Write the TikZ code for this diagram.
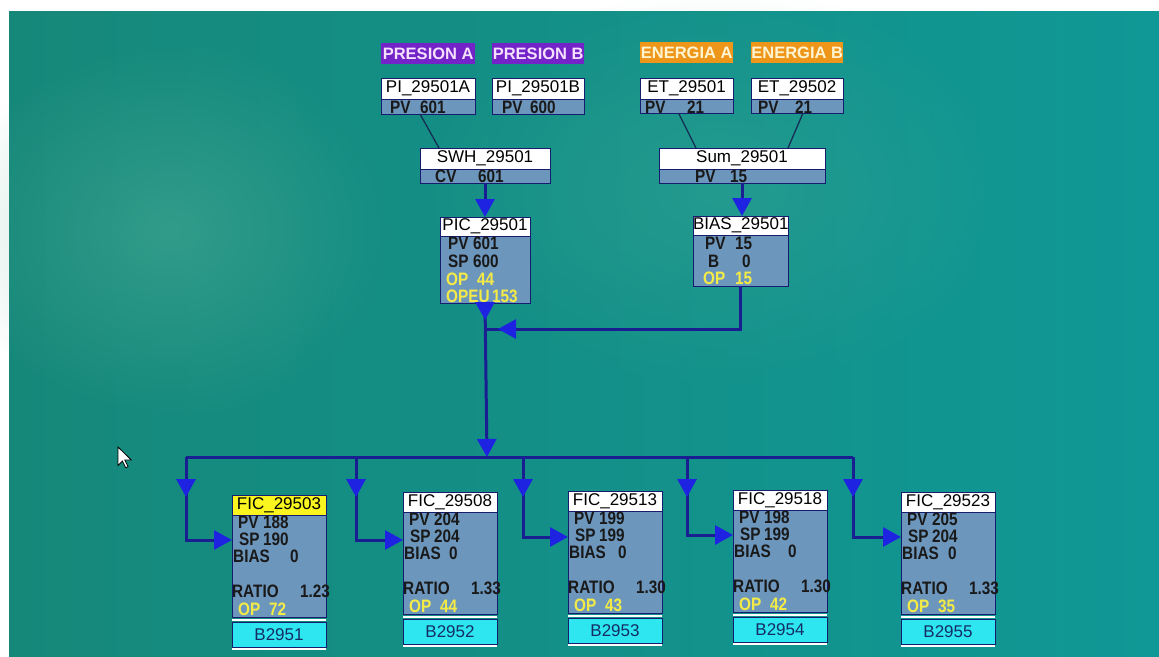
\documentclass[tikz,border=0pt]{standalone}
\usepackage{fontspec}
\setmainfont{Liberation Sans}
\newfontfamily\bodyf[FakeStretch=0.85]{Liberation Sans}
\usetikzlibrary{arrows.meta,decorations.markings,fadings}
\definecolor{tealL}{RGB}{22,136,122}
\definecolor{tealR}{RGB}{16,152,150}
\definecolor{spot}{RGB}{85,178,152}
\definecolor{bodycol}{RGB}{108,150,188}
\definecolor{navy}{RGB}{22,28,110}
\definecolor{linecol}{RGB}{25,30,145}
\definecolor{arrcol}{RGB}{30,35,225}
\definecolor{thincol}{RGB}{20,45,85}
\definecolor{yel}{RGB}{245,235,70}
\definecolor{purp}{RGB}{115,35,200}
\definecolor{purptxt}{RGB}{245,225,255}
\definecolor{orng}{RGB}{238,150,25}
\definecolor{orngtxt}{RGB}{255,245,210}
\definecolor{cyanb}{RGB}{45,230,240}
\definecolor{cytxt}{RGB}{20,45,100}
\definecolor{hdryel}{RGB}{250,245,30}
\tikzfading[name=softspot, inner color=transparent!55, outer color=transparent!100]
\newcommand\lv[3]{\makebox[#1][l]{#2}#3}
\tikzset{
  hdr/.style={draw=navy, line width=1pt, fill=white, inner sep=0pt, outer sep=0pt, anchor=north west, font=\fontsize{17}{17}\selectfont, text=black},
  bod/.style={draw=navy, line width=1pt, fill=bodycol, inner sep=0pt, outer sep=0pt, anchor=north west},
  rowt/.style={anchor=west, inner sep=0pt, font=\bodyf\bfseries\fontsize{18}{18}\selectfont, text=black!90},
  rowy/.style={rowt, text=yel},
  lab/.style={inner sep=0pt, anchor=north west, font=\bfseries\fontsize{16.5}{16.5}\selectfont},
  conn/.style={draw=linecol, line width=3pt},
  thinc/.style={draw=thincol, line width=1.3pt},
  cyb/.style={fill=cyanb, draw=navy, line width=1pt, inner sep=0pt, outer sep=0pt, anchor=north west, font=\fontsize{17}{17}\selectfont, text=cytxt},
}
\newcommand\mkbox[7]{%
  \node[hdr, minimum width=#4pt, minimum height=#5pt] (#1) at (#2,#3) {#7};
  \node[bod, minimum width=#4pt, minimum height=#6pt] (#1b) at (#1.south west) {};
}
\newcommand\ficbox[6]{%
  \node[hdr, fill=#4, minimum width=94pt, minimum height=20pt] (#1) at (#2,#3) {#5};
  \node[bod, minimum width=94pt, minimum height=102pt] (#1b) at (#1.south west) {};
  \draw[white, line width=2pt] (#2,#3+124.5) -- (#2+94,#3+124.5);
  \node[cyb, minimum width=94pt, minimum height=25pt] (#1c) at (#2,#3+127) {#6};
  \draw[white, line width=2pt] (#2,#3+153.5) -- (#2+94,#3+153.5);
}
\newcommand\ficrows[8]{%
  \node[rowt] (#1r1) at (#2+6,#3+27) {\lv{25pt}{PV}{#4}};
  \node[rowt] (#1r2) at (#2+7,#3+44) {\lv{24pt}{SP}{#5}};
  \node[rowt] (#1r3) at (#2+1,#3+61) {\lv{#6pt}{BIAS}{0}};
  \node[rowt] (#1r4) at (#2,#3+96) {\lv{68pt}{RATIO}{#7}};
  \node[rowy] (#1r5) at (#2+6,#3+114) {\lv{31pt}{OP}{#8}};
}
\begin{document}
\begin{tikzpicture}[x=1pt,y=-1pt,
  >={Triangle[length=18pt,width=19pt,color=arrcol]}]
\useasboundingbox (0,0) rectangle (1159,656);
\fill[white] (0,0) rectangle (1159,656);
\shade[left color=tealL, right color=tealR] (9,11) rectangle (1159,656);
\fill[spot, path fading=softspot] (170,230) ellipse [x radius=220, y radius=190];
\fill[spot, path fading=softspot, fill opacity=0.6] (720,190) ellipse [x radius=300, y radius=200];

% labels
\node[lab, fill=purp, text=purptxt, minimum width=94pt, minimum height=21pt] (pra) at (381,43) {PRESION A};
\node[lab, fill=purp, text=purptxt, minimum width=92pt, minimum height=21pt] (prb) at (492,43) {PRESION B};
\node[lab, fill=orng, text=orngtxt, minimum width=93pt, minimum height=21pt] (ena) at (640,42) {ENERGIA A};
\node[lab, fill=orng, text=orngtxt, minimum width=92pt, minimum height=21pt] (enb) at (751,42) {ENERGIA B};

% boxes
\mkbox{pia}{381}{78}{94}{21}{15}{PI\_29501A}
\mkbox{pib}{492}{78}{92}{21}{15}{PI\_29501B}
\mkbox{eta}{640}{78}{93}{21}{14}{ET\_29501}
\mkbox{etb}{751}{78}{92}{21}{14}{ET\_29502}
\mkbox{swh}{420}{148}{130}{21}{14}{SWH\_29501}
\mkbox{sum}{659}{148}{166}{21}{14}{Sum\_29501}
\mkbox{pic}{440}{217}{90}{19}{67}{PIC\_29501}
\mkbox{bias}{693}{216}{95}{19}{51}{BIAS\_29501}

\node[rowt] (piar) at (390,107) {\lv{30pt}{PV}{601}};
\node[rowt] (pibr) at (502,107) {\lv{28pt}{PV}{600}};
\node[rowt] (etar) at (645,107) {\lv{42pt}{PV}{21}};
\node[rowt] (etbr) at (758,107) {\lv{37pt}{PV}{21}};
\node[rowt] (swhr) at (435,176) {\lv{43pt}{CV}{601}};
\node[rowt] (sumr) at (695,176) {\lv{35pt}{PV}{15}};
\node[rowt] (picr1) at (448,243) {\lv{25pt}{PV}{601}};
\node[rowt] (picr2) at (448,261) {\lv{25pt}{SP}{600}};
\node[rowy] (picr3) at (446,279) {\lv{31pt}{OP}{44}};
\node[rowy] (picr4) at (446,296) {\lv{46pt}{OPEU}{153}};
\node[rowt] (biasr1) at (705,243) {\lv{30pt}{PV}{15}};
\node[rowt] (biasr2) at (708,261) {\lv{34pt}{B}{0}};
\node[rowy] (biasr3) at (703,278) {\lv{32pt}{OP}{15}};

% FIC boxes
\ficbox{fa}{232}{495}{hdryel}{FIC\_29503}{B2951}
\ficrows{fa}{232}{495}{188}{190}{57}{1.23}{72}
\ficbox{fb}{403}{492}{white}{FIC\_29508}{B2952}
\ficrows{fb}{403}{492}{204}{204}{45}{1.33}{44}
\ficbox{fc}{568}{491}{white}{FIC\_29513}{B2953}
\ficrows{fc}{568}{491}{199}{199}{49}{1.30}{43}
\ficbox{fd}{733}{490}{white}{FIC\_29518}{B2954}
\ficrows{fd}{733}{490}{198}{199}{54}{1.30}{42}
\ficbox{fe}{901}{492}{white}{FIC\_29523}{B2955}
\ficrows{fe}{901}{492}{205}{204}{46}{1.33}{35}

% coordinates
\coordinate (J) at (487,329);
\coordinate (bus) at (487,457);
\coordinate (busL) at (186,457);
\coordinate (busR) at (853,457);
\coordinate (d1) at (186,457);
\coordinate (d2) at (356,457);
\coordinate (d3) at (523,457);
\coordinate (d4) at (687,457);
\coordinate (d5) at (853,457);

% connectors
\draw[thinc] ([xshift=-8pt]piab.south) -- ([xshift=-46pt]swh.north);
\draw[thinc] ([xshift=-8pt]etab.south) -- ([xshift=-46pt]sum.north);
\draw[thinc] ([xshift=6pt]etbb.south) -- ([xshift=46pt]sum.north);
\draw[conn,->] (swhb.south) -- (swhb.south |- pic.north);
\draw[conn,->] (sumb.south) -- (sumb.south |- bias.north);
\draw[conn,->,postaction={decorate},decoration={markings, mark=at position 17pt with {\arrow{>}}}] (picb.south) -- (bus);
\draw[conn,postaction={decorate},decoration={markings, mark=at position -11pt with {\arrow{>}}}] (biasb.south) |- (J);
\draw[conn] (busL) -- (busR);
\draw[conn,->,postaction={decorate},decoration={markings, mark=at position 40pt with {\arrow{>}}}] (d1) |- ([yshift=-25pt]fab.north west);
\draw[conn,->,postaction={decorate},decoration={markings, mark=at position 40pt with {\arrow{>}}}] (d2) |- ([yshift=-28pt]fbb.north west);
\draw[conn,->,postaction={decorate},decoration={markings, mark=at position 40pt with {\arrow{>}}}] (d3) |- ([yshift=-26pt]fcb.north west);
\draw[conn,->,postaction={decorate},decoration={markings, mark=at position 40pt with {\arrow{>}}}] (d4) |- ([yshift=-25pt]fdb.north west);
\draw[conn,->,postaction={decorate},decoration={markings, mark=at position 40pt with {\arrow{>}}}] (d5) |- ([yshift=-25pt]feb.north west);

% mouse cursor
\filldraw[fill=white, draw=black, line width=0.8pt] (118,447) -- ++(0,18.5) -- ++(4.4,-4.4) -- ++(3.3,6.6) -- ++(2.4,-1.1) -- ++(-3.3,-6.6) -- ++(6.5,0) -- cycle;
\end{tikzpicture}
\end{document}
